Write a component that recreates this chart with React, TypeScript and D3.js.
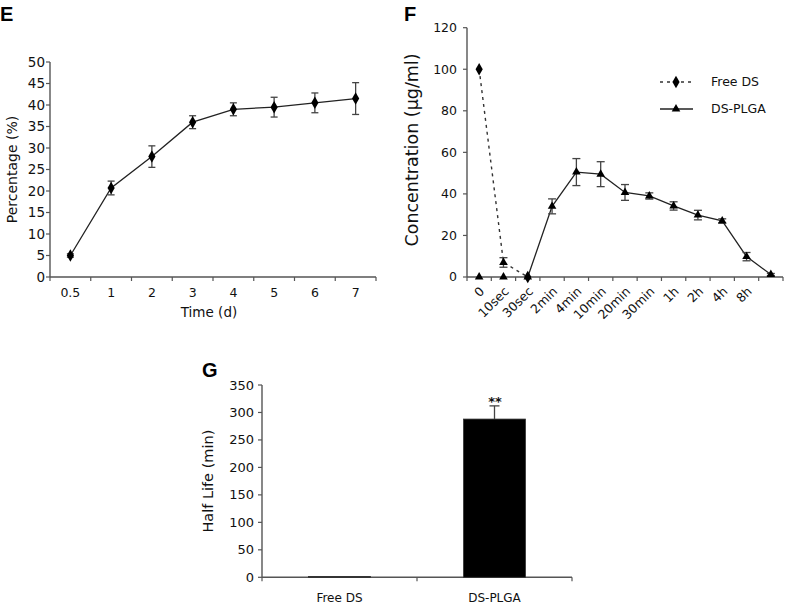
import React from "react";
import * as d3 from "d3";

const FONT = "'DejaVu Sans', 'Open Sans', sans-serif";

// Panel E
const eCats = ["0.5", "1", "2", "3", "4", "5", "6", "7"];
const eVals = [5, 20.7, 28, 36, 39, 39.5, 40.5, 41.5];
const eErr = [0.4, 1.6, 2.5, 1.5, 1.5, 2.3, 2.3, 3.7];
const eTicks = [0, 5, 10, 15, 20, 25, 30, 35, 40, 45, 50];

// Panel F
const fCats = ["0", "10sec", "30sec", "2min", "4min", "10min", "20min", "30min", "1h", "2h", "4h", "8h", ""];
const freeDS = [100, 7, 0];
const freeDSErr = [0, 2.3, 0];
const dsPlga = [0, 0, 0, 34, 50.5, 49.5, 40.7, 39, 34.2, 29.8, 27, 9.8, 1.2];
const dsPlgaErr = [0, 0, 0, 3.6, 6.5, 6, 3.8, 1.5, 2, 2.3, 1, 2, 0.5];
const fTicks = [0, 20, 40, 60, 80, 100, 120];

// Panel G
const gCats = ["Free DS", "DS-PLGA"];
const gVals = [1.5, 288];
const gErr = [0, 24];
const gTicks = [0, 50, 100, 150, 200, 250, 300, 350];

const AX = "#555";
const LN = "#222";

export default function App() {
  // E scales
  const ex = d3.scaleBand<string>().domain(eCats).range([50, 376]);
  const ey = d3.scaleLinear().domain([0, 50]).range([277, 62]);
  const diamond = d3.symbol().type(d3.symbolDiamond).size(45)()!;
  const tri = d3.symbol().type(d3.symbolTriangle).size(32)()!;
  const ePts = eCats.map((c, i) => [ex(c)! + ex.bandwidth() / 2, ey(eVals[i])] as [number, number]);
  const eLine = d3.line()(ePts)!;

  // F scales
  const fx = d3.scaleBand<string>().domain(fCats.map((c, i) => String(i))).range([467, 783]);
  const fy = d3.scaleLinear().domain([0, 120]).range([277, 27.7]);
  const fcx = (i: number) => fx(String(i))! + fx.bandwidth() / 2;
  const freePts = freeDS.map((v, i) => [fcx(i), fy(v)] as [number, number]);
  const plgaPts = dsPlga.map((v, i) => [fcx(i), fy(v)] as [number, number]);
  const line = d3.line();

  // G scales
  const gx = d3.scaleBand<string>().domain(gCats).range([262, 572]).paddingInner(0).paddingOuter(0);
  const gy = d3.scaleLinear().domain([0, 350]).range([577.3, 385]);
  const barW = gx.bandwidth() * 0.4;

  const errBar = (x: number, yHi: number, yLo: number, key: string, cap = 3.5, color = "#444") => (
    <g key={key} stroke={color} strokeWidth={1.3}>
      <line x1={x} x2={x} y1={yHi} y2={yLo} />
      <line x1={x - cap} x2={x + cap} y1={yHi} y2={yHi} />
      <line x1={x - cap} x2={x + cap} y1={yLo} y2={yLo} />
    </g>
  );

  return (
    <svg width={788} height={605} style={{ position: "absolute", left: 0, top: 0, background: "#fff" }} fontFamily={FONT}>
      <rect width={788} height={605} fill="#fff" />
      {/* ===== Panel E ===== */}
      <text x={0} y={21} fontSize={20} fontWeight="bold" fontFamily="'Liberation Sans', Arial, sans-serif">E</text>
      <line x1={50} x2={50} y1={ey(50)} y2={ey(0)} stroke={AX} strokeWidth={1.4} />
      <line x1={50} x2={376} y1={ey(0)} y2={ey(0)} stroke={AX} strokeWidth={1.4} />
      {eTicks.map((t) => (
        <g key={"et" + t}>
          <line x1={46} x2={50} y1={ey(t)} y2={ey(t)} stroke={AX} strokeWidth={1.2} />
          <text x={45} y={ey(t)} dy="0.35em" textAnchor="end" fontSize={13.5} fill="#111">{t}</text>
        </g>
      ))}
      {d3.range(eCats.length + 1).map((i) => {
        const x = 50 + ex.bandwidth() * i;
        return <line key={"ext" + i} x1={x} x2={x} y1={277} y2={281} stroke={AX} strokeWidth={1.2} />;
      })}
      {eCats.map((c) => (
        <text key={"exl" + c} x={ex(c)! + ex.bandwidth() / 2} y={297} textAnchor="middle" fontSize={12.5} fill="#111">{c}</text>
      ))}
      <text x={209} y={317} textAnchor="middle" fontSize={13.5} fill="#111">Time (d)</text>
      <text transform={`translate(17,${ey(25)}) rotate(-90)`} textAnchor="middle" fontSize={14} fill="#111">Percentage (%)</text>
      <path d={eLine} fill="none" stroke={LN} strokeWidth={1.3} />
      {ePts.map(([x, y], i) => errBar(x, ey(eVals[i] + eErr[i]), ey(eVals[i] - eErr[i]), "ee" + i, 3.5))}
      {ePts.map(([x, y], i) => (
        <path key={"em" + i} d={diamond} transform={`translate(${x},${y})`} fill="#000" />
      ))}

      {/* ===== Panel F ===== */}
      <text x={404} y={21} fontSize={20} fontWeight="bold" fontFamily="'Liberation Sans', Arial, sans-serif">F</text>
      <line x1={467} x2={467} y1={fy(120)} y2={fy(0)} stroke={AX} strokeWidth={1.4} />
      <line x1={467} x2={783} y1={fy(0)} y2={fy(0)} stroke={AX} strokeWidth={1.4} />
      {fTicks.map((t) => (
        <g key={"ft" + t}>
          <line x1={463} x2={467} y1={fy(t)} y2={fy(t)} stroke={AX} strokeWidth={1.2} />
          <text x={457} y={fy(t)} dy="0.35em" textAnchor="end" fontSize={12.5} fill="#111">{t}</text>
        </g>
      ))}
      {d3.range(fCats.length + 1).map((i) => {
        const x = 467 + fx.bandwidth() * i;
        return <line key={"fxt" + i} x1={x} x2={x} y1={277} y2={281} stroke={AX} strokeWidth={1.2} />;
      })}
      {fCats.map((c, i) =>
        c ? (
          <text key={"fxl" + i} transform={`translate(${fcx(i) + 3},${289}) rotate(-45)`} textAnchor="end" dy="0.35em" fontSize={12.5} fill="#111">{c}</text>
        ) : null
      )}
      <text transform={`translate(418,150) rotate(-90)`} textAnchor="middle" fontSize={17.5} fill="#111">Concentration (µg/ml)</text>
      {/* Free DS */}
      <path d={line(freePts)!} fill="none" stroke="#333" strokeWidth={1.4} strokeDasharray="3,4" />
      {/* DS-PLGA */}
      <path d={line(plgaPts.slice(2))!} fill="none" stroke={LN} strokeWidth={1.3} />
      {dsPlga.map((v, i) =>
        dsPlgaErr[i] > 0 ? errBar(fcx(i), fy(v + dsPlgaErr[i]), fy(v - dsPlgaErr[i]), "fe" + i, 4) : null
      )}
      {freeDS.map((v, i) =>
        freeDSErr[i] > 0 ? errBar(fcx(i), fy(v + freeDSErr[i]), fy(v - freeDSErr[i]), "ffe" + i, 4) : null
      )}
      {plgaPts.map(([x, y], i) => (
        <path key={"fpm" + i} d={tri} transform={`translate(${x},${y})`} fill="#000" />
      ))}
      {freePts.map(([x, y], i) => (
        <path key={"ffm" + i} d={i === 1 ? tri : diamond} transform={`translate(${x},${y})`} fill="#000" />
      ))}
      {/* legend */}
      <g>
        <line x1={660} x2={693} y1={82} y2={82} stroke="#333" strokeWidth={1.4} strokeDasharray="3,4" />
        <path d={diamond} transform="translate(676,82)" fill="#000" />
        <text x={711} y={82} dy="0.35em" fontSize={12.5} fill="#111">Free DS</text>
        <line x1={660} x2={693} y1={109} y2={109} stroke={LN} strokeWidth={1.3} />
        <path d={tri} transform="translate(676,109)" fill="#000" />
        <text x={711} y={109} dy="0.35em" fontSize={12.5} fill="#111">DS-PLGA</text>
      </g>

      {/* ===== Panel G ===== */}
      <text x={202} y={377} fontSize={20} fontWeight="bold" fontFamily="'Liberation Sans', Arial, sans-serif">G</text>
      <line x1={262} x2={262} y1={gy(350)} y2={gy(0)} stroke={AX} strokeWidth={1.4} />
      <line x1={262} x2={572} y1={gy(0)} y2={gy(0)} stroke={AX} strokeWidth={1.4} />
      {gTicks.map((t) => (
        <g key={"gt" + t}>
          <line x1={258} x2={262} y1={gy(t)} y2={gy(t)} stroke={AX} strokeWidth={1.2} />
          <text x={254} y={gy(t)} dy="0.35em" textAnchor="end" fontSize={13} fill="#111">{t}</text>
        </g>
      ))}
      {d3.range(gCats.length + 1).map((i) => {
        const x = 262 + gx.bandwidth() * i;
        return <line key={"gxt" + i} x1={x} x2={x} y1={gy(0)} y2={gy(0) + 4} stroke={AX} strokeWidth={1.2} />;
      })}
      {gCats.map((c, i) => {
        const cx = gx(c)! + gx.bandwidth() / 2;
        return (
          <g key={"gb" + c}>
            <rect x={cx - barW / 2} y={gy(gVals[i])} width={barW} height={gy(0) - gy(gVals[i])} fill="#000" stroke="#333" strokeWidth={0.8} />
            {gErr[i] > 0 && (
              <g stroke="#444" strokeWidth={1.3}>
                <line x1={cx} x2={cx} y1={gy(gVals[i])} y2={gy(gVals[i] + gErr[i])} />
                <line x1={cx - 5} x2={cx + 5} y1={gy(gVals[i] + gErr[i])} y2={gy(gVals[i] + gErr[i])} />
              </g>
            )}
            <text x={cx} y={602} textAnchor="middle" fontSize={12} fill="#111">{c}</text>
          </g>
        );
      })}
      <text x={495} y={406} textAnchor="middle" fontSize={13} fontWeight="bold" fill="#111">**</text>
      <text transform={`translate(213,${gy(175)}) rotate(-90)`} textAnchor="middle" fontSize={14.5} fill="#111">Half Life (min)</text>
    </svg>
  );
}
